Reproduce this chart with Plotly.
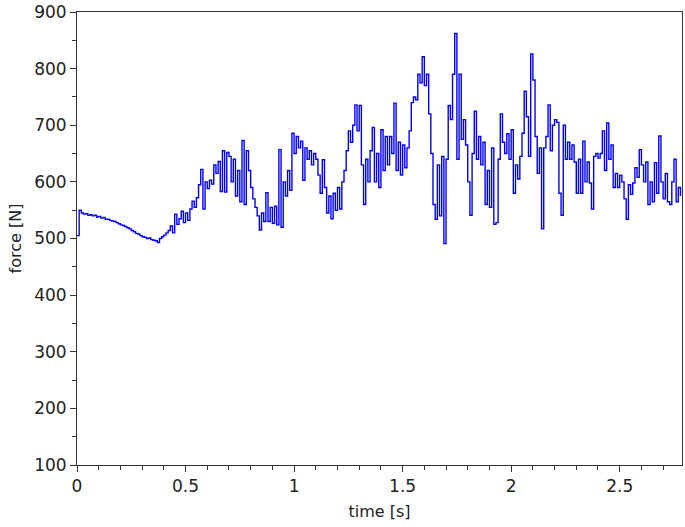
import numpy as np
import plotly.graph_objects as go

dt = 0.01
force = [
    505, 550, 545, 543, 544, 541, 542, 540, 541, 538,
    539, 536, 537, 534, 534, 532, 531, 530, 528, 526,
    524, 523, 521, 519, 517, 514, 512, 509, 508, 505,
    503, 502, 500, 501, 498, 497, 496, 493, 500, 503,
    506, 510, 514, 522, 510, 543, 525, 535, 548, 528,
    545, 532, 552, 566, 555, 572, 595, 622, 552, 600,
    588, 603, 596, 630, 615, 636, 583, 655, 582, 652,
    645, 600, 640, 575, 620, 565, 673, 560, 655, 620,
    590, 570, 555, 540, 515, 545, 530, 581, 530, 555,
    527, 557, 524, 657, 520, 600, 575, 620, 585, 686,
    650, 680, 660, 672, 603, 660, 640, 655, 630, 650,
    640, 612, 580, 639, 590, 545, 575, 535, 580, 550,
    590, 552, 600, 620, 655, 690, 670, 700, 736, 690,
    735, 630, 560, 640, 600, 655, 696, 600, 650, 590,
    692, 620, 680, 630, 680, 650, 739, 620, 670, 612,
    665, 625, 660, 690, 740, 750, 745, 790, 775, 821,
    770, 790, 720, 650, 560, 534, 630, 540, 645, 491,
    640, 735, 710, 790, 862, 640, 790, 675, 710, 665,
    600, 541, 650, 725, 640, 680, 630, 670, 560, 620,
    555, 660, 525, 528, 640, 720, 670, 650, 685, 640,
    692, 580, 630, 605, 645, 686, 760, 715, 645, 826,
    780, 680, 615, 660, 517, 660, 680, 736, 655, 700,
    710, 705, 580, 541, 700, 640, 670, 640, 665, 635,
    580, 640, 580, 672, 600, 635, 598, 552, 645, 650,
    642, 650, 690, 620, 704, 640, 665, 590, 615, 590,
    612, 600, 570, 534, 595, 578, 598, 625, 608, 657,
    630, 600, 635, 560, 600, 565, 634, 580, 681, 600,
    570, 615, 565, 560, 600, 640, 565, 590, 575,
]
time = np.arange(len(force)) * dt

axis_color = '#333333'
font_family = 'DejaVu Sans, Verdana, sans-serif'

fig = go.Figure()

fig.add_trace(go.Scatter(
    x=time,
    y=force,
    mode='lines',
    line=dict(color='#0000ff', width=1.4, shape='hv'),
    showlegend=False,
))

fig.update_layout(
    width=685,
    height=527,
    margin=dict(l=77, r=2, t=8, b=62),
    plot_bgcolor='white',
    paper_bgcolor='white',
    font=dict(family=font_family, size=17, color='#222222'),
)

fig.update_xaxes(
    title=dict(text='time [s]', font=dict(size=16), standoff=10),
    range=[0, 2.787],
    tickmode='linear', tick0=0, dtick=0.5,
    ticks='outside', ticklen=6, tickwidth=1, tickcolor=axis_color,
    minor=dict(dtick=0.1, ticks='outside', ticklen=4, tickcolor=axis_color),
    showline=True, linecolor=axis_color, linewidth=1, mirror=True,
    showgrid=False, zeroline=False, ticklabeloverflow='allow',
)
fig.update_yaxes(
    title=dict(text='force [N]', font=dict(size=16), standoff=8),
    range=[100, 900],
    tickmode='linear', tick0=100, dtick=100,
    ticks='outside', ticklen=6, tickwidth=1, tickcolor=axis_color,
    minor=dict(dtick=50, ticks='outside', ticklen=4, tickcolor=axis_color),
    showline=True, linecolor=axis_color, linewidth=1, mirror=True,
    showgrid=False, zeroline=False, ticklabeloverflow='allow',
)

# drop the default page margin so the figure fills the window
fig.write_html(
    "out.html",
    config={'displayModeBar': False},
    post_script="document.body.style.margin='0';",
)
